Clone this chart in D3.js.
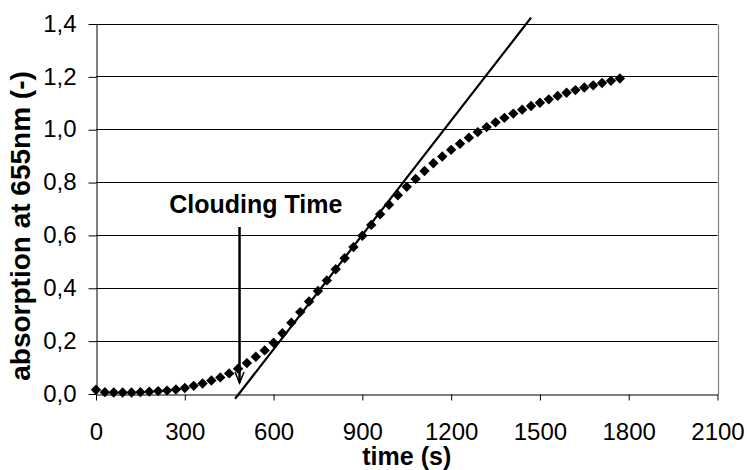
<!DOCTYPE html>
<html>
<head>
<meta charset="utf-8">
<script src="https://cdn.jsdelivr.net/npm/d3@7"></script>
<style>
  html, body { margin: 0; padding: 0; background: #fff; }
  svg { display: block; }
  text { font-family: "Liberation Sans", Arial, sans-serif; fill: #000; }
</style>
</head>
<body>
<svg id="chart" width="747" height="470"></svg>
<script>
// ---- data ----
const timeS = [0,30,60,90,120,150,180,210,240,270,300,330,360,390,420,450,480,510,540,570,
  600,630,660,690,720,750,780,810,840,870,900,930,960,990,1020,1050,1080,1110,1140,1170,
  1200,1230,1260,1290,1320,1350,1380,1410,1440,1470,1500,1530,1560,1590,1620,1650,1680,1710,1740,1770];
const absorption = [0.014,0.005,0.004,0.004,0.004,0.005,0.007,0.009,0.011,0.015,0.021,0.029,0.038,0.049,0.061,0.076,0.094,0.115,0.139,0.163,
  0.192,0.228,0.268,0.308,0.348,0.388,0.428,0.470,0.512,0.554,0.597,0.638,0.678,0.714,0.750,0.782,0.812,0.842,0.871,0.897,
  0.922,0.945,0.968,0.989,1.008,1.026,1.043,1.059,1.074,1.088,1.100,1.113,1.126,1.138,1.148,1.158,1.166,1.175,1.183,1.192];
const tangentT = [470, 1470];
const tangentV = [-0.02, 1.422];
const arrowT = [485, 485];
const arrowV = [0.63, 0.04];
const annotation = { label: "Clouding Time", t: 540, v: 0.682 };
const xTicks = [0,300,600,900,1200,1500,1800,2100];
const yTicks = [0,0.2,0.4,0.6,0.8,1.0,1.2,1.4];
const xTitle = "time (s)";
const yTitle = "absorption at 655nm (-)";

// ---- layout ----
const svg = d3.select("#chart");
const L = 96, R = 717.5, T = 23.5, B = 393.5;
const x = d3.scaleLinear().domain([0, 2100]).range([L, R]);
const y = d3.scaleLinear().domain([0, 1.4]).range([B, T]);
const fmt = v => d3.format(".1f")(v).replace(".", ",");

// gridlines
svg.append("g").selectAll("line").data(yTicks.filter(v => v > 0)).join("line")
  .attr("x1", L).attr("x2", R)
  .attr("y1", d => Math.round(y(d)) + 0.5).attr("y2", d => Math.round(y(d)) + 0.5)
  .attr("stroke", "#000").attr("stroke-width", 1);

// right border
svg.append("line").attr("x1", Math.round(R) + 0.5).attr("x2", Math.round(R) + 0.5)
  .attr("y1", Math.round(T) + 0.5).attr("y2", Math.round(B) + 0.5)
  .attr("stroke", "#808080").attr("stroke-width", 1.2);

// x axis
const xAxis = svg.append("g").attr("transform", `translate(0,${Math.round(B) + 0.5})`)
  .call(d3.axisBottom(x).tickValues(xTicks).tickFormat(d3.format("d"))
    .tickSizeInner(6).tickSizeOuter(0).tickPadding(22));
xAxis.selectAll("text").style("font-size", "24px");
xAxis.select(".domain").attr("stroke", "#000");

// y axis
const yAxis = svg.append("g").attr("transform", `translate(${L + 0.5},0)`)
  .call(d3.axisLeft(y).tickValues(yTicks).tickFormat(fmt)
    .tickSizeInner(8).tickSizeOuter(0).tickPadding(12));
yAxis.selectAll("text").style("font-size", "24px");
yAxis.selectAll(".tick line").attr("transform", "translate(0,0.5)");

// tangent line
svg.append("path")
  .datum(tangentT.map((t, i) => [t, tangentV[i]]))
  .attr("d", d3.line().x(d => x(d[0])).y(d => y(d[1])))
  .attr("stroke", "#000").attr("stroke-width", 2.2).attr("fill", "none");

// data markers (diamonds)
const diamond = d3.symbol().type(d3.symbolSquare).size(54);
svg.append("g").selectAll("path").data(timeS.map((t, i) => [t, absorption[i]])).join("path")
  .attr("d", diamond)
  .attr("transform", d => `translate(${x(d[0])},${y(d[1])}) rotate(45)`)
  .attr("fill", "#000");

// arrow
const ax = x(arrowT[0]);
const ay0 = y(arrowV[0]), ay1 = y(arrowV[1]);
svg.append("line").attr("x1", ax).attr("x2", ax).attr("y1", ay0).attr("y2", ay1)
  .attr("stroke", "#000").attr("stroke-width", 2.5);
svg.append("path")
  .attr("d", `M${ax - 4.5},${ay1 - 11} L${ax},${ay1} L${ax + 4.5},${ay1 - 11}`)
  .attr("stroke", "#000").attr("stroke-width", 1.5).attr("fill", "none");

// annotation text
svg.append("text").attr("x", x(annotation.t)).attr("y", y(annotation.v))
  .attr("text-anchor", "middle").style("font-size", "25px").style("font-weight", "bold")
  .text(annotation.label);

// axis titles
svg.append("text").attr("x", (L + R) / 2).attr("y", 465)
  .attr("text-anchor", "middle").style("font-size", "25px").style("font-weight", "bold")
  .text(xTitle);
svg.append("text").attr("transform", "translate(30,226) rotate(-90)")
  .attr("text-anchor", "middle").style("font-size", "28px").style("font-weight", "bold")
  .text(yTitle);
</script>
</body>
</html>
